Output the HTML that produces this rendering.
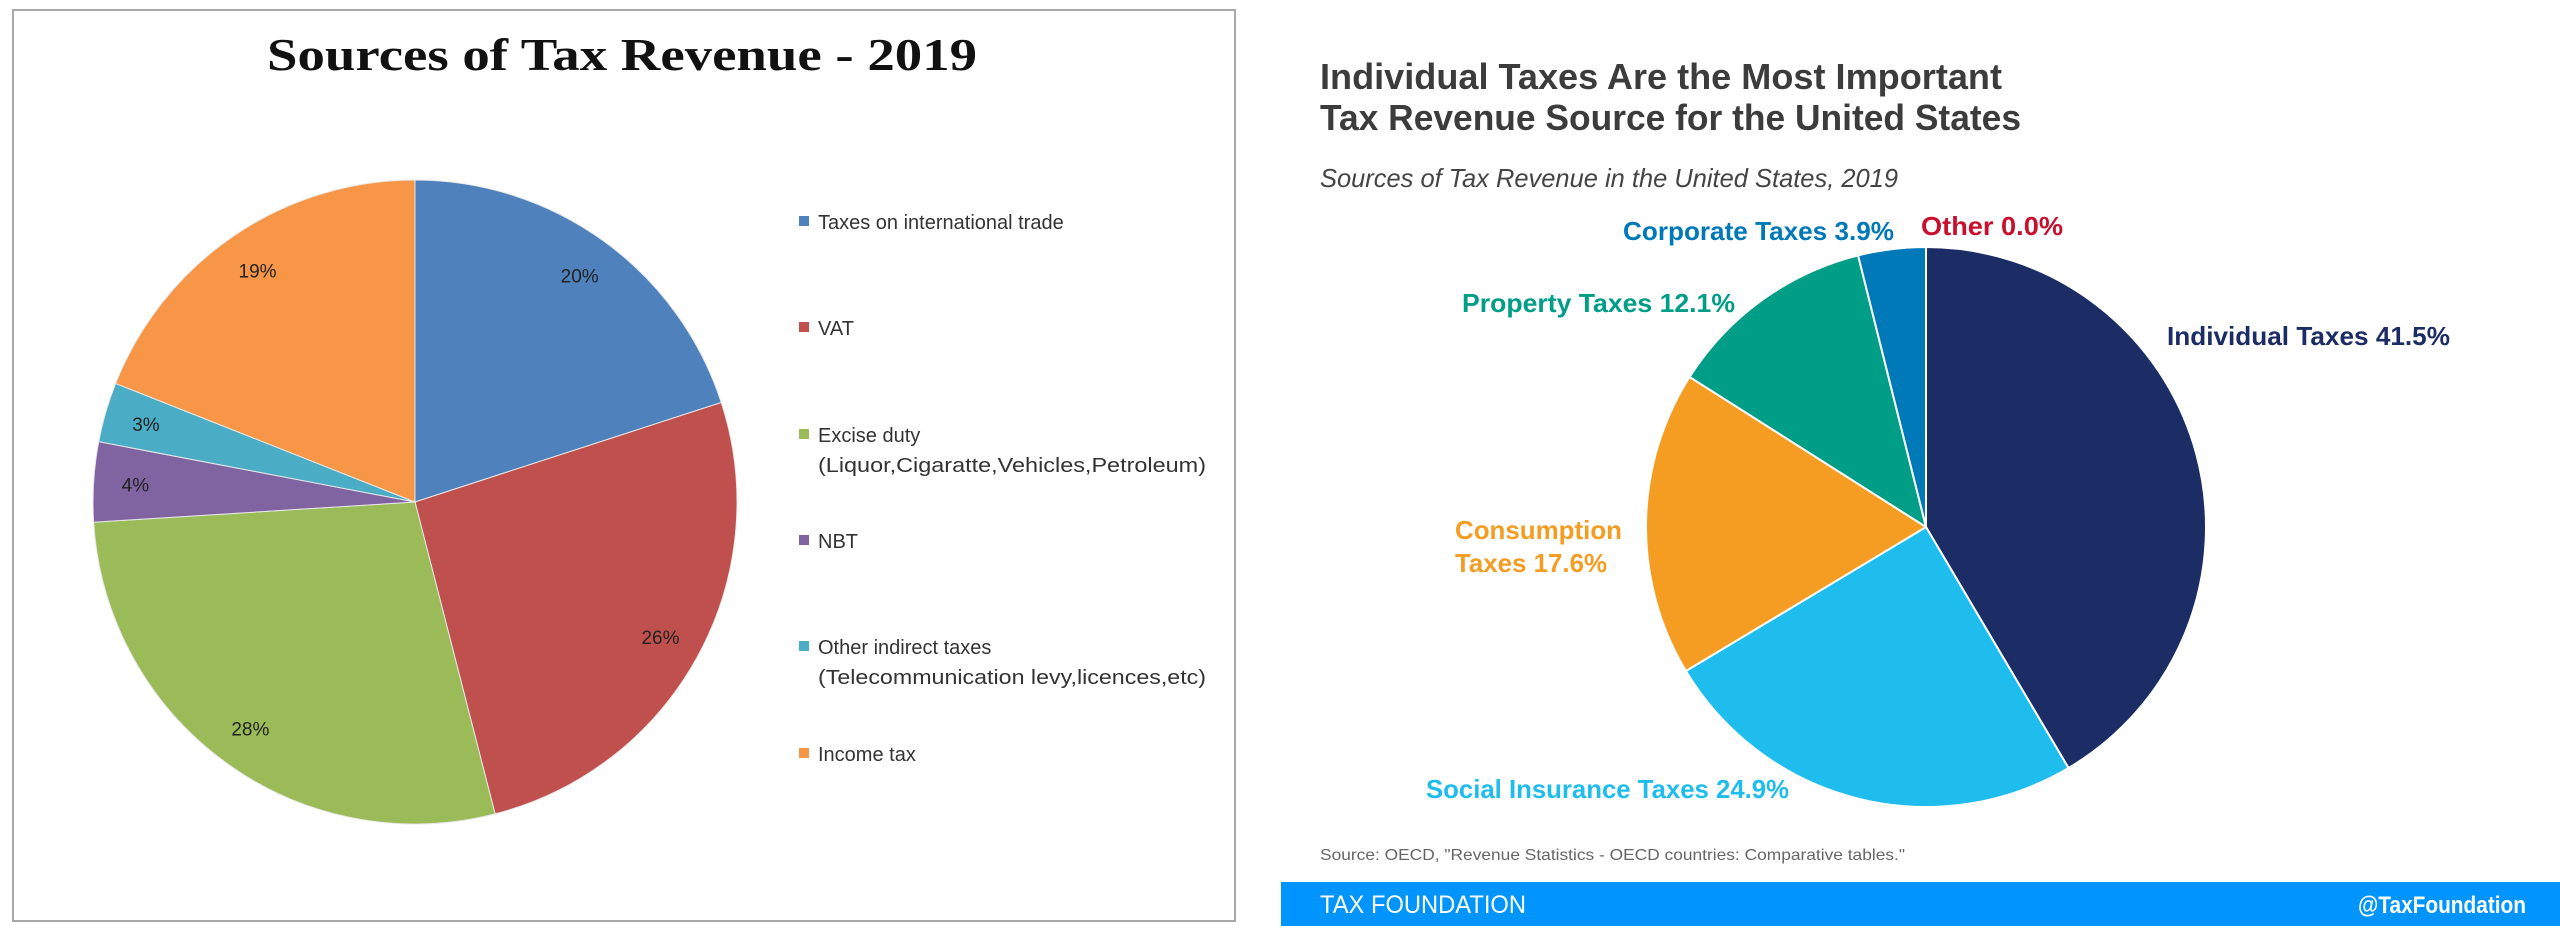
<!DOCTYPE html>
<html><head><meta charset="utf-8">
<style>
html,body{margin:0;padding:0;background:#fff;}
svg{display:block;}
</style></head>
<body>
<svg id="chart" width="2560" height="939" viewBox="0 0 2560 939" xmlns="http://www.w3.org/2000/svg">
  <rect x="0" y="0" width="2560" height="939" fill="#fff"/>
  <!-- Left panel -->
  <rect x="13" y="10" width="1222" height="911" fill="#fff" stroke="#a9a9a9" stroke-width="2"/>
  <text x="622" y="70" text-anchor="middle" font-family="Liberation Serif, serif" font-weight="bold" font-size="46" fill="#111" textLength="710" lengthAdjust="spacingAndGlyphs">Sources of Tax Revenue - 2019</text>
  <g id="leftPie"></g>
  <g id="leftLabels"></g>
  <g id="leftLegend"></g>

  <!-- Right panel -->
  <text x="1320" y="89" font-family="Liberation Sans Narrow, Liberation Sans, sans-serif" font-weight="bold" font-size="36" fill="#3c3c3c" textLength="682" lengthAdjust="spacingAndGlyphs">Individual Taxes Are the Most Important</text>
  <text x="1320" y="130" font-family="Liberation Sans Narrow, Liberation Sans, sans-serif" font-weight="bold" font-size="36" fill="#3c3c3c" textLength="701" lengthAdjust="spacingAndGlyphs">Tax Revenue Source for the United States</text>
  <text x="1320" y="187" font-family="Liberation Sans Narrow, Liberation Sans, sans-serif" font-style="italic" font-size="26" fill="#444" textLength="578" lengthAdjust="spacingAndGlyphs">Sources of Tax Revenue in the United States, 2019</text>
  <g id="rightPie"></g>
  <g id="rightLabels"></g>
  <text x="1320" y="860" font-family="Liberation Sans Narrow, Liberation Sans, sans-serif" font-size="16" fill="#666" textLength="585" lengthAdjust="spacingAndGlyphs">Source: OECD, "Revenue Statistics - OECD countries: Comparative tables."</text>
  <rect x="1281" y="882" width="1279" height="44" fill="#0094ff"/>
  <text x="1320" y="913" font-family="Liberation Sans Narrow, Liberation Sans, sans-serif" font-size="25" fill="#fff" textLength="206" lengthAdjust="spacingAndGlyphs">TAX FOUNDATION</text>
  <text x="2526" y="913" text-anchor="end" font-family="Liberation Sans Narrow, Liberation Sans, sans-serif" font-weight="bold" font-size="24" fill="#fff" textLength="168" lengthAdjust="spacingAndGlyphs">@TaxFoundation</text>
</svg>
<script>
// Left chart data
const leftCategories = ["Taxes on international trade","VAT","Excise duty","NBT","Other indirect taxes","Income tax"];
const leftLegendSub = ["","","(Liquor,Cigaratte,Vehicles,Petroleum)","","(Telecommunication levy,licences,etc)",""];
const leftValues = [20, 26, 28, 4, 3, 19];
const leftColors = ["#4f81bd","#c0504d","#9bbb59","#8064a2","#4bacc6","#f79646"];

// Right chart data
const rightCategories = ["Individual Taxes","Social Insurance Taxes","Consumption Taxes","Property Taxes","Corporate Taxes","Other"];
const rightValues = [41.5, 24.9, 17.6, 12.1, 3.9, 0.0];
const rightColors = ["#1b2d64","#1fbdee","#f59c22","#009e87","#0079b8","#c8102e"];

const NS = "http://www.w3.org/2000/svg";
function mk(tag, attrs, parent){
  const e = document.createElementNS(NS, tag);
  for (const k in attrs) e.setAttribute(k, attrs[k]);
  parent.appendChild(e);
  return e;
}
function angleScale(values){
  const total = values.reduce((a,b)=>a+b,0);
  return v => v/total*Math.PI*2;
}
function pt(cx, cy, r, a){ return [cx + r*Math.sin(a), cy - r*Math.cos(a)]; }
function slicePath(cx, cy, r, a0, a1){
  if (a1 - a0 <= 0) return "";
  if (a1 - a0 >= Math.PI*2 - 1e-6) {
    return `M${cx} ${cy-r} A${r} ${r} 0 1 1 ${cx-0.01} ${cy-r} Z`;
  }
  const p0 = pt(cx,cy,r,a0), p1 = pt(cx,cy,r,a1);
  const large = (a1-a0) > Math.PI ? 1 : 0;
  return `M${cx} ${cy} L${p0[0]} ${p0[1]} A${r} ${r} 0 ${large} 1 ${p1[0]} ${p1[1]} Z`;
}

// Left pie
(function(){
  const cx = 415, cy = 502, r = 322;
  const g = document.getElementById("leftPie");
  const lg = document.getElementById("leftLabels");
  const sc = angleScale(leftValues);
  let a = 0;
  leftValues.forEach((v,i)=>{
    const a1 = a + sc(v);
    const p = mk("path", {d: slicePath(cx,cy,r,a,a1), fill: leftColors[i], stroke:"#e8e8e8", "stroke-width":"1"}, g);
    
    
    const m = (a + a1)/2;
    const lp = pt(cx, cy, r*0.87, m);
    const t = mk("text", {x: lp[0], y: lp[1]+7, "text-anchor":"middle", "font-family":"Liberation Sans, sans-serif", "font-size":"19", fill:"#222"}, lg);
    t.textContent = Math.round(v) + "%";
    
    
    a = a1;
  });
  const lgd = document.getElementById("leftLegend");
  const ys = [222, 328, 435, 541, 647, 754];
  leftCategories.forEach((c,i)=>{
    const sq = mk("rect", {x: 799, y: ys[i]-6, width: 10, height: 10, fill: leftColors[i]}, lgd);
    
    
    const t = mk("text", {x: 818, y: ys[i]+7, "font-family":"Liberation Sans, sans-serif", "font-size":"20", fill:"#333"}, lgd);
    t.textContent = c;
    
    
    if (leftLegendSub[i]) {
      const t2 = mk("text", {x: 818, y: ys[i]+37, "font-family":"Liberation Sans, sans-serif", "font-size":"20", fill:"#333", textLength:"388", lengthAdjust:"spacingAndGlyphs"}, lgd);
      t2.textContent = leftLegendSub[i];
      
      
    }
  });
})();

// Right pie
(function(){
  const cx = 1926, cy = 527, r = 280;
  const g = document.getElementById("rightPie");
  const sc = angleScale(rightValues);
  let a = 0;
  rightValues.forEach((v,i)=>{
    const a1 = a + sc(v);
    const d = slicePath(cx,cy,r,a,a1);
    if (d) {
      const p = mk("path", {d: d, fill: rightColors[i], stroke:"#fff", "stroke-width":"2", "stroke-linejoin":"round"}, g);
      
      
    }
    a = a1;
  });
  // label layout (text placement only)
  const lg = document.getElementById("rightLabels");
  const layout = [
    {x:2167, y:[345], w:[283]},
    {x:1426, y:[798], w:[363]},
    {x:1455, y:[539,572], w:[167,152], split:true},
    {x:1462, y:[312], w:[273]},
    {x:1623, y:[240], w:[271]},
    {x:1921, y:[235], w:[142]}
  ];
  rightCategories.forEach((c,i)=>{
    const L = layout[i];
    const label = c + " " + rightValues[i].toFixed(1) + "%";
    const lines = L.split ? [c.split(" ")[0], c.split(" ").slice(1).join(" ") + " " + rightValues[i].toFixed(1) + "%"] : [label];
    lines.forEach((ln,j)=>{
      const t = mk("text", {x: L.x, y: L.y[j], "font-family":"Liberation Sans Narrow, Liberation Sans, sans-serif", "font-weight":"bold", "font-size":"26", fill: rightColors[i], textLength: L.w[j], lengthAdjust:"spacingAndGlyphs"}, lg);
      t.textContent = ln;
      
      
    });
  });
})();
</script>
</body></html>
